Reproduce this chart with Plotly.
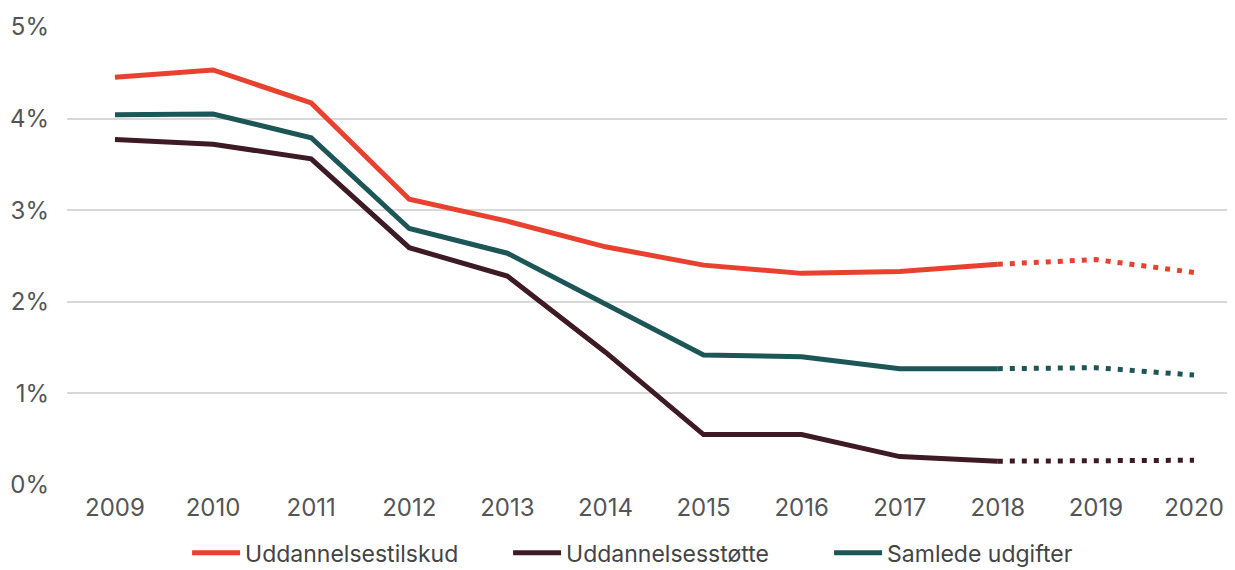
import plotly.graph_objects as go

years = [2009, 2010, 2011, 2012, 2013, 2014, 2015, 2016, 2017, 2018, 2019, 2020]
tilskud = [4.45, 4.53, 4.17, 3.12, 2.88, 2.60, 2.40, 2.31, 2.33, 2.41, 2.46, 2.32]
stoette = [3.77, 3.72, 3.56, 2.59, 2.28, 1.45, 0.55, 0.55, 0.31, 0.26, 0.26, 0.27]
samlede = [4.04, 4.05, 3.79, 2.80, 2.53, 1.97, 1.42, 1.40, 1.27, 1.27, 1.28, 1.20]
names = ["Uddannelsestilskud", "Uddannelsesstøtte", "Samlede udgifter"]
colors = ["#E8412F", "#3E1A25", "#1D5656"]
y_ticks = [0, 1, 2, 3, 4, 5]
y_labels = ["0%", "1%", "2%", "3%", "4%", "5%"]

split = years.index(2018)
fig = go.Figure()
for name, vals, col in zip(names, [tilskud, stoette, samlede], colors):
    fig.add_trace(go.Scatter(x=years[:split + 1], y=vals[:split + 1], mode="lines", name=name,
                             line=dict(color=col, width=5), legendgroup=name))
for name, vals, col in zip(names, [tilskud, stoette, samlede], colors):
    fig.add_trace(go.Scatter(x=years[split:], y=vals[split:], mode="lines", name=name,
                             line=dict(color=col, width=5, dash="5px,7px"), legendgroup=name,
                             showlegend=False))

fig.update_layout(
    width=1235, height=570,
    margin=dict(l=59, r=8, t=18, b=93),
    plot_bgcolor="white", paper_bgcolor="white",
    font=dict(family="Inter, Roboto, sans-serif", color="#555555", size=24),
    xaxis=dict(range=[2008.511, 2020.418], tickmode="array", tickvals=years,
               ticktext=[str(y) for y in years], showgrid=False, zeroline=False,
               showline=False, ticks="", ticklabelstandoff=6, automargin=False,
               tickfont=dict(size=24, color="#555555")),
    yaxis=dict(range=[0, 5.01], tickmode="array", tickvals=y_ticks, ticktext=y_labels,
               showgrid=True, gridcolor="#D9D9D9", gridwidth=2, zeroline=False,
               showline=False, ticks="", ticklabelstandoff=17, automargin=False,
               tickfont=dict(size=24, color="#555555")),
    legend=dict(orientation="h", xref="container", yref="container",
                x=0.145, xanchor="left", y=0.044, yanchor="middle",
                font=dict(size=23, color="#444444"), tracegroupgap=0,
                itemwidth=48, entrywidth=258, entrywidthmode="pixels"),
    showlegend=True,
)

fig.write_html("out.html")
